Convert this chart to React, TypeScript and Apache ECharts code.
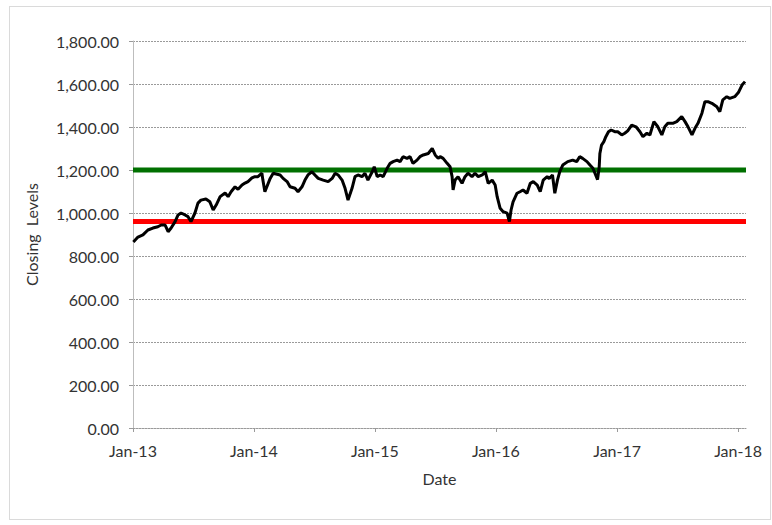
import React, { useEffect, useRef } from "react";
import * as echarts from "echarts";

const dates = [
  "2013-01-02","2013-01-16","2013-01-31","2013-02-15","2013-03-02","2013-03-17","2013-03-27","2013-04-08","2013-04-17","2013-04-26",
  "2013-05-08","2013-05-17","2013-05-26","2013-06-07","2013-06-16","2013-06-25","2013-07-07","2013-07-16","2013-07-25","2013-08-09",
  "2013-08-21","2013-08-31","2013-09-09","2013-09-21","2013-10-06","2013-10-15","2013-10-24","2013-11-05","2013-11-14","2013-11-26",
  "2013-12-05","2013-12-14","2013-12-26","2014-01-04","2014-01-13","2014-01-25","2014-01-28","2014-02-03","2014-02-19","2014-02-28",
  "2014-03-21","2014-03-30","2014-04-11","2014-04-20","2014-05-05","2014-05-14","2014-05-26","2014-06-04","2014-06-13","2014-06-25",
  "2014-07-04","2014-07-14","2014-07-29","2014-08-13","2014-08-25","2014-09-03","2014-09-12","2014-09-24","2014-10-03","2014-10-12",
  "2014-10-24","2014-11-02","2014-11-11","2014-11-23","2014-12-02","2014-12-11","2014-12-24","2014-12-30","2015-01-08","2015-01-17",
  "2015-01-26","2015-02-07","2015-02-16","2015-02-25","2015-03-09","2015-03-18","2015-03-27","2015-04-08","2015-04-17","2015-04-26",
  "2015-05-08","2015-05-17","2015-05-27","2015-06-11","2015-06-23","2015-07-02","2015-07-11","2015-07-17","2015-07-26","2015-08-07",
  "2015-08-16","2015-08-22","2015-08-25","2015-08-31","2015-09-09","2015-09-21","2015-09-30","2015-10-09","2015-10-21","2015-10-30",
  "2015-11-09","2015-11-21","2015-11-30","2015-12-09","2015-12-21","2015-12-30","2016-01-05","2016-01-14","2016-01-23","2016-02-04",
  "2016-02-11","2016-02-16","2016-02-22","2016-03-05","2016-03-14","2016-03-23","2016-04-04","2016-04-14","2016-04-23","2016-05-05",
  "2016-05-14","2016-05-23","2016-06-04","2016-06-10","2016-06-20","2016-06-27","2016-07-05","2016-07-12","2016-07-21","2016-08-05",
  "2016-08-20","2016-09-01","2016-09-10","2016-09-19","2016-10-02","2016-10-11","2016-10-20","2016-11-03","2016-11-08","2016-11-10",
  "2016-11-15","2016-11-22","2016-11-28","2016-12-06","2016-12-14","2016-12-25","2017-01-03","2017-01-15","2017-01-24","2017-02-02",
  "2017-02-14","2017-02-27","2017-03-11","2017-03-20","2017-04-01","2017-04-10","2017-04-22","2017-05-04","2017-05-16","2017-05-25",
  "2017-06-03","2017-06-18","2017-06-30","2017-07-15","2017-07-25","2017-08-03","2017-08-15","2017-08-24","2017-09-02","2017-09-14",
  "2017-09-23","2017-10-02","2017-10-14","2017-10-29","2017-11-07","2017-11-16","2017-11-28","2017-12-07","2017-12-22","2018-01-02",
  "2018-01-13","2018-01-22"
];

const closingLevels = [
  865,888,898,921,930,936,944,944,913,930,
  960,991,1000,991,983,960,1000,1046,1060,1065,
  1052,1014,1037,1076,1093,1076,1099,1122,1110,1130,
  1139,1146,1163,1169,1169,1185,1153,1099,1161,1185,
  1177,1161,1146,1122,1115,1099,1122,1153,1177,1192,
  1177,1161,1153,1146,1161,1185,1177,1153,1115,1060,
  1115,1169,1177,1169,1185,1153,1192,1215,1169,1177,
  1169,1208,1231,1239,1246,1239,1262,1254,1262,1231,
  1246,1262,1270,1277,1300,1270,1254,1262,1254,1231,
  1215,1169,1107,1153,1169,1138,1169,1185,1169,1185,
  1169,1177,1192,1138,1153,1130,1076,1022,1006,999,
  960,1014,1052,1092,1099,1107,1092,1138,1146,1130,
  1099,1153,1169,1160,1177,1092,1153,1192,1223,1239,
  1246,1239,1262,1254,1239,1223,1208,1155,1215,1277,
  1316,1332,1355,1378,1386,1378,1378,1363,1371,1382,
  1409,1401,1378,1355,1371,1363,1425,1401,1363,1401,
  1417,1417,1425,1448,1425,1401,1363,1394,1417,1464,
  1518,1518,1510,1494,1471,1526,1541,1533,1541,1560,
  1595,1611
];

const upperThreshold = 1200;
const lowerThreshold = 960;
const xStart = "2013-01-01";
const xEnd = "2018-01-25";
const yTicks = [0, 200, 400, 600, 800, 1000, 1200, 1400, 1600, 1800];
const monthNames = ["Jan","Feb","Mar","Apr","May","Jun","Jul","Aug","Sep","Oct","Nov","Dec"];

const FONT = "Lato";
const TEXT_COLOR = "#333333";

export default function App() {
  const ref = useRef<HTMLDivElement>(null);
  useEffect(() => {
    if (!ref.current) return;
    const chart = echarts.init(ref.current, undefined, { renderer: "svg" });
    const DAY = 24 * 3600 * 1000;
    chart.setOption({
      animation: false,
      backgroundColor: "#ffffff",
      textStyle: { fontFamily: FONT },
      graphic: [
        {
          type: "rect",
          silent: true,
          shape: { x: 9.5, y: 6.5, width: 761, height: 513 },
          style: { fill: "none", stroke: "#b5b5b5", lineWidth: 1, lineDash: [1, 1] },
        },
      ],
      grid: { left: 133, right: 26, top: 41, bottom: 97, containLabel: false },
      xAxis: {
        type: "time",
        min: xStart,
        max: xEnd,
        minInterval: 365 * DAY,
        maxInterval: 366 * DAY,
        name: "Date",
        nameLocation: "middle",
        nameGap: 42,
        nameTextStyle: { fontFamily: FONT, fontSize: 16, color: TEXT_COLOR },
        axisLine: { show: true, lineStyle: { color: "#9a9a9a", width: 1, type: [2, 1] } },
        axisTick: { show: true, length: 4, lineStyle: { color: "#9a9a9a" } },
        axisLabel: {
          fontFamily: FONT,
          fontSize: 16,
          color: TEXT_COLOR,
          margin: 14,
          showMaxLabel: false,
          formatter: (v: number) => {
            const d = new Date(v);
            return monthNames[d.getMonth()] + "-" + String(d.getFullYear()).slice(2);
          },
        },
        splitLine: { show: false },
      },
      yAxis: {
        type: "value",
        min: yTicks[0],
        max: yTicks[yTicks.length - 1],
        interval: yTicks[1] - yTicks[0],
        name: "Closing  Levels",
        nameLocation: "middle",
        nameGap: 94,
        nameRotate: 90,
        nameTextStyle: { fontFamily: FONT, fontSize: 16, color: TEXT_COLOR },
        axisLine: { show: true, lineStyle: { color: "#bdbdbd", width: 1 } },
        axisTick: { show: true, length: 4, lineStyle: { color: "#9a9a9a" } },
        axisLabel: {
          fontFamily: FONT,
          fontSize: 16,
          color: TEXT_COLOR,
          margin: 14,
          formatter: (v: number) =>
            v.toLocaleString("en-US", { minimumFractionDigits: 2, maximumFractionDigits: 2 }),
        },
        splitLine: { show: true, lineStyle: { color: "#9a9a9a", width: 1, type: [2, 1] } },
      },
      series: [
        {
          name: "Upper",
          type: "line",
          data: [[xStart, upperThreshold], [xEnd, upperThreshold]],
          showSymbol: false,
          lineStyle: { color: "#007000", width: 5 },
          z: 2,
        },
        {
          name: "Lower",
          type: "line",
          data: [[xStart, lowerThreshold], [xEnd, lowerThreshold]],
          showSymbol: false,
          lineStyle: { color: "#ff0000", width: 5 },
          z: 2,
        },
        {
          name: "Close",
          type: "line",
          data: dates.map((d, i) => [d, closingLevels[i]]),
          showSymbol: false,
          lineStyle: { color: "#000000", width: 3 },
          z: 3,
        },
      ],
    });
    return () => chart.dispose();
  }, []);
  return (
    <div style={{ position: "fixed", left: 0, top: 0, width: 772, height: 525, background: "#fff" }}>
      <div ref={ref} style={{ width: 772, height: 525 }} />
    </div>
  );
}
